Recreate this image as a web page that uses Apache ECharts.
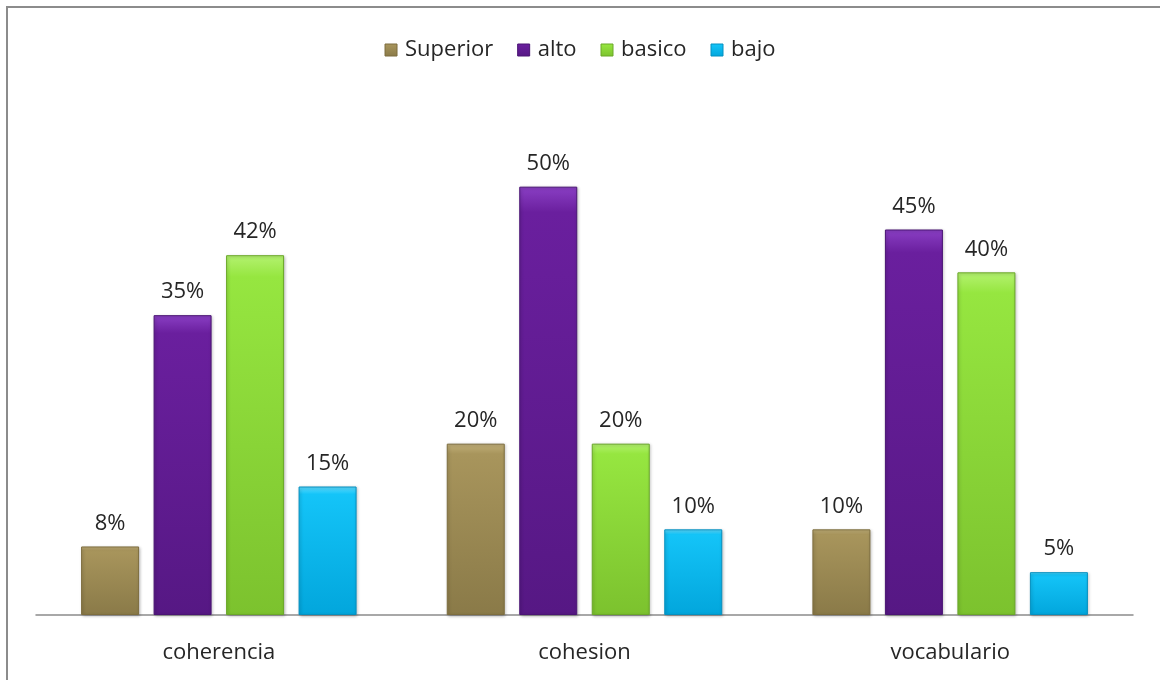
<!DOCTYPE html>
<html><head><meta charset="utf-8">
<script src="https://cdn.jsdelivr.net/npm/echarts@6/dist/echarts.min.js"></script>
<style>html,body{margin:0;padding:0;background:#fff}#c{width:1160px;height:680px}</style>
</head><body><div id="c"></div>
<script>
const categories = ['coherencia', 'cohesion', 'vocabulario'];
const superiorVals = [8, 20, 10];
const altoVals = [35, 50, 45];
const basicoVals = [42, 20, 40];
const bajoVals = [15, 10, 5];
const seriesNames = ['Superior', 'alto', 'basico', 'bajo'];

const palette = [
  {light:'#c2b07a', base:'#a8955c', dark:'#8a7a48', border:'#7d6d3e'},
  {light:'#8a3fc4', base:'#6a1f9e', dark:'#561884', border:'#4a1474'},
  {light:'#b4f270', base:'#96e640', dark:'#7cc22e', border:'#6aa828'},
  {light:'#60dcff', base:'#14c4f8', dark:'#02a6dc', border:'#0590c0'}
];
function grad(p){
  return new echarts.graphic.LinearGradient(0,0,0,1,[
    {offset:0,color:p.light},{offset:0.06,color:p.base},{offset:1,color:p.dark}
  ]);
}
const font = '"Open Sans", "Noto Sans", sans-serif';
const dataSets = [superiorVals, altoVals, basicoVals, bajoVals];
const chart = echarts.init(document.getElementById('c'));
chart.setOption({
  animation:false,
  backgroundColor:'#fff',
  graphic:[{type:'rect',shape:{x:7,y:7,width:1200,height:720},style:{fill:'none',stroke:'#8c8c8c',lineWidth:2},silent:true}],
  legend:{top:34,left:'center',icon:'rect',itemWidth:12,itemHeight:12,itemGap:24,
    textStyle:{fontFamily:font,fontSize:22,color:'#262626',padding:[0,0,0,3]},
    data:seriesNames.map((n,i)=>({name:n,itemStyle:{color:grad(palette[i]),borderColor:palette[i].border,borderWidth:1}}))},
  grid:{left:36,right:27,top:101,bottom:65,containLabel:false},
  xAxis:{type:'category',data:categories,
    axisLine:{lineStyle:{color:'#8c8c8c',width:1.5}},axisTick:{show:false},
    axisLabel:{fontFamily:font,fontSize:22,color:'#262626',margin:27}},
  yAxis:{type:'value',min:0,max:60,show:false,splitLine:{show:false}},
  series:dataSets.map((d,i)=>({
    name:seriesNames[i],type:'bar',data:d,barWidth:58,barGap:'25%',
    itemStyle:{color:grad(palette[i]),borderColor:palette[i].border,borderWidth:1,
      shadowColor:'rgba(0,0,0,0.25)',shadowBlur:3,shadowOffsetX:1,shadowOffsetY:1},
    label:{show:true,position:'top',distance:12,formatter:'{c}%',fontFamily:font,fontSize:22,color:'#262626'}
  }))
});
</script></body></html>
